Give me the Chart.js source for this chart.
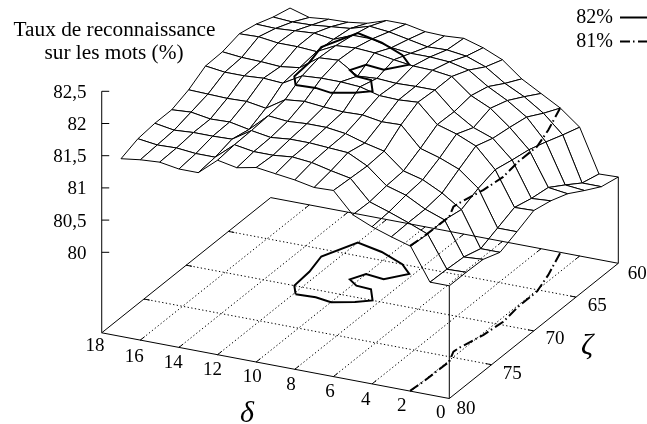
<!DOCTYPE html>
<html lang="fr">
<head>
    <meta charset="UTF-8">
    <title>Taux de reconnaissance sur les mots</title>
    <script src="https://cdn.jsdelivr.net/npm/chart.js"></script>
    <style>
        body { margin: 0; background: #fff; }
        canvas { display: block; }
    </style>
</head>
<body>
    <canvas id="surface" width="647" height="424"></canvas>

    <script>
        // Axes
        const deltaValues = [17, 16, 15, 14, 13, 12, 11, 10, 9, 8, 7, 6, 5, 4, 3, 2, 1, 0];
        const zetaValues = [80, 78, 76, 74, 72, 70, 68, 66, 64, 62, 60];
        const deltaTicks = [18, 16, 14, 12, 10, 8, 6, 4, 2, 0];
        const zetaTicks = [80, 75, 70, 65, 60];
        const rateTicks = [82.5, 82, 81.5, 81, 80.5, 80];
        const rateTickLabels = ['82,5', '82', '81,5', '81', '80,5', '80'];

        // Surface : une liste par valeur de zeta, dans l'ordre de deltaValues
        const rate80 = [81.51, 81.55, 81.57, 81.52, 81.52, 81.77, 81.71, 81.77, 81.73, 81.69, 81.63, 81.64, 81.32, 81.19, 81.09, 81.00, 80.50, 80.50];
        const rate78 = [81.61, 81.57, 81.58, 81.55, 81.55, 81.80, 81.75, 81.75, 81.78, 81.75, 81.68, 81.62, 81.31, 81.21, 81.10, 80.98, 80.49, 80.50];
        const rate76 = [81.64, 81.59, 81.61, 81.61, 81.62, 81.81, 81.76, 81.79, 81.79, 81.77, 81.75, 81.60, 81.35, 81.26, 81.10, 80.99, 80.47, 80.49];
        const rate74 = [81.64, 81.66, 81.61, 81.62, 81.56, 81.83, 81.80, 81.82, 81.82, 81.78, 81.69, 81.62, 81.37, 81.29, 81.14, 80.94, 80.39, 80.39];
        const rate72 = [81.74, 81.73, 81.72, 81.73, 81.68, 81.87, 81.90, 81.87, 81.85, 81.86, 81.81, 81.82, 81.51, 81.42, 81.30, 81.06, 80.50, 80.50];
        const rate70 = [81.90, 81.86, 81.86, 81.88, 81.86, 82.03, 82.05, 82.05, 82.03, 81.95, 81.94, 81.96, 81.67, 81.58, 81.45, 81.14, 80.61, 80.62];
        const rate68 = [81.91, 81.88, 81.87, 81.85, 81.89, 82.10, 82.12, 81.93, 81.95, 81.93, 81.94, 81.94, 81.66, 81.47, 81.36, 81.08, 80.54, 80.56];
        const rate66 = [81.98, 81.99, 81.95, 81.95, 81.93, 82.08, 82.10, 82.08, 82.03, 81.99, 81.98, 81.94, 81.70, 81.56, 81.32, 81.03, 80.50, 80.46];
        const rate64 = [81.92, 81.91, 81.93, 81.95, 81.91, 82.03, 82.03, 81.95, 81.92, 81.92, 81.90, 81.83, 81.63, 81.47, 81.27, 80.94, 80.33, 80.30];
        const rate62 = [81.82, 81.80, 81.81, 81.84, 81.87, 81.96, 81.93, 81.87, 81.81, 81.82, 81.78, 81.67, 81.47, 81.32, 81.12, 80.84, 80.15, 80.15];
        const rate60 = [81.75, 81.66, 81.69, 81.70, 81.74, 81.84, 81.84, 81.78, 81.77, 81.79, 81.70, 81.57, 81.33, 81.16, 80.99, 80.75, 80.08, 80.09];
        const rates = [rate80, rate78, rate76, rate74, rate72, rate70, rate68, rate66, rate64, rate62, rate60];

        // Contours (delta, zeta)
        const contour82Delta = [11.9, 12.4, 12.5, 12.8, 12.0, 10.5, 9.0, 8.2, 9.0, 10.0, 10.4, 9.8, 9.0, 8.35, 9.0, 10.0, 10.9, 11.9];
        const contour82Zeta = [71.0, 70.0, 68.0, 65.9, 63.4, 64.0, 65.0, 66.0, 67.2, 67.0, 68.0, 68.6, 68.7, 70.0, 70.6, 71.15, 70.9, 71.0];
        const contour81Delta = [2.05, 1.97, 1.93, 2.28, 2.25, 1.9, 1.76, 1.92, 1.93, 2.32, 2.97];
        const contour81Zeta = [79.96, 78.6, 75.6, 74.3, 73.8, 71.6, 69.6, 67.45, 65.2, 63.0, 60.1];

        const BASE_LEVEL = 78.75;
        const DASH_DOT = [10, 3, 1.5, 3.5];

        // Vue : projection orthographique de gnuplot (delta, zeta, taux) vers le repere du graphique
        function project(delta, zeta, rate) {
            return {
                x: 449.3 - 19.31 * delta + 8.45 * (80 - zeta),
                y: 398.5 - 3.65 * delta - 6.76 * (80 - zeta) - 64.4 * (rate - BASE_LEVEL)
            };
        }

        function line(points, opts) {
            return Object.assign({
                data: points,
                showLine: true,
                pointRadius: 0,
                borderColor: '#000',
                borderWidth: 1,
                tension: 0,
                fill: false
            }, opts);
        }

        const datasets = [];
        let order = 0;
        function add(points, opts) {
            datasets.push(line(points, Object.assign({ order: order++ }, opts)));
        }

        // Contours (au-dessus de tout)
        const solid = { borderWidth: 2 };
        const dashed = { borderWidth: 2, borderDash: DASH_DOT };
        add(contour82Delta.map((d, i) => project(d, contour82Zeta[i], 82)), solid);
        add(contour82Delta.map((d, i) => project(d, contour82Zeta[i], BASE_LEVEL)), solid);
        add(contour81Delta.map((d, i) => project(d, contour81Zeta[i], 81)), dashed);
        add(contour81Delta.map((d, i) => project(d, contour81Zeta[i], BASE_LEVEL)), dashed);

        // Legende
        add([{ x: 620, y: 17.5 }, { x: 647, y: 17.5 }], solid);
        add([{ x: 620, y: 41.5 }, { x: 647, y: 41.5 }], dashed);

        // Cadre de la base
        add([project(18, 80, BASE_LEVEL), project(0, 80, BASE_LEVEL), project(0, 60, BASE_LEVEL), project(18, 60, BASE_LEVEL), project(18, 80, BASE_LEVEL)]);

        // Axe vertical et graduations
        const axisBottom = project(18, 80, BASE_LEVEL);
        add([axisBottom, project(18, 80, rateTicks[0])]);
        rateTicks.forEach(r => {
            const p = project(18, 80, r);
            add([p, { x: p.x + 7.5, y: p.y }]);
        });

        // Grille pointillee et graduations de la base
        const dotted = { borderDash: [1.3, 2.4] };
        deltaTicks.filter(d => d > 0 && d < 18).forEach(d => {
            add([project(d, 80, BASE_LEVEL), project(d, 60, BASE_LEVEL)], dotted);
            add([project(d, 80, BASE_LEVEL), project(d, 79.5, BASE_LEVEL)]);
            add([project(d, 60, BASE_LEVEL), project(d, 60.5, BASE_LEVEL)]);
        });
        zetaTicks.filter(z => z > 60 && z < 80).forEach(z => {
            add([project(18, z, BASE_LEVEL), project(0, z, BASE_LEVEL)], dotted);
            add([project(18, z, BASE_LEVEL), project(17.7, z, BASE_LEVEL)]);
            add([project(0, z, BASE_LEVEL), project(0.3, z, BASE_LEVEL)]);
        });

        // Surface : facettes blanches, des plus proches aux plus lointaines
        for (let j = 0; j < zetaValues.length - 1; j++) {
            for (let i = deltaValues.length - 2; i >= 0; i--) {
                const quad = [
                    project(deltaValues[i + 1], zetaValues[j], rates[j][i + 1]),
                    project(deltaValues[i], zetaValues[j], rates[j][i]),
                    project(deltaValues[i], zetaValues[j + 1], rates[j + 1][i]),
                    project(deltaValues[i + 1], zetaValues[j + 1], rates[j + 1][i + 1])
                ];
                quad.push(quad[0]);
                add(quad, { fill: 'shape', backgroundColor: '#fff' });
            }
        }

        // Aretes verticales des coins
        add([project(0, 80, BASE_LEVEL), project(0, 80, rate80[17])]);
        add([project(0, 60, BASE_LEVEL), project(0, 60, rate60[17])]);

        // Textes : graduations, titres, legende
        const deltaLabelNudge = [[-6.7, 11.3], [-6, 15], [-5.6, 14.3], [-5, 14.3], [-3.9, 13.7], [-3.8, 14], [-3.4, 14.4], [-6.3, 14.4], [-9, 13.8], [-8.6, 13.2]];
        const zetaLabelNudge = [[16.7, 9.2], [20.7, 8], [21.2, 6.3], [21.3, 7.9], [19, 9.4]];

        const textPlugin = {
            id: 'texts',
            afterDatasetsDraw(chart) {
                const { ctx, scales } = chart;
                const px = p => ({ x: scales.x.getPixelForValue(p.x), y: scales.y.getPixelForValue(p.y) });
                // le milieu des chiffres tombe un peu haut avec textBaseline middle
                const put = (text, x, y, align, font) => {
                    ctx.font = font;
                    ctx.textAlign = align;
                    ctx.textBaseline = 'middle';
                    ctx.fillText(text, x, y + 1.5);
                };
                const tickFont = '19px "Liberation Serif"';
                const titleFont = '21.3px "Liberation Serif"';
                ctx.save();
                ctx.fillStyle = '#000';
                put('Taux de reconnaissance', 114.5, 29, 'center', titleFont);
                put('sur les mots (%)', 114, 52, 'center', titleFont);
                put('82%', 613, 16, 'right', '20px "Liberation Serif"');
                put('81%', 613, 40, 'right', '20px "Liberation Serif"');
                rateTicks.forEach((r, i) => {
                    const p = px(project(18, 80, r));
                    put(rateTickLabels[i], 86.5, p.y, 'right', tickFont);
                });
                deltaTicks.forEach((d, i) => {
                    const p = px(project(d, 80, BASE_LEVEL));
                    put(String(d), p.x + deltaLabelNudge[i][0], p.y + deltaLabelNudge[i][1], 'center', tickFont);
                });
                zetaTicks.forEach((z, i) => {
                    const p = px(project(0, z, BASE_LEVEL));
                    put(String(z), p.x + zetaLabelNudge[i][0], p.y + zetaLabelNudge[i][1], 'center', tickFont);
                });
                put('δ', 247, 412.5, 'center', 'italic 30px "Liberation Serif"');
                put('ζ', 587, 345, 'center', 'italic 30px "Liberation Serif"');
                ctx.restore();
            }
        };

        new Chart(document.getElementById('surface').getContext('2d'), {
            type: 'scatter',
            data: { datasets: datasets },
            options: {
                responsive: false,
                animation: false,
                events: [],
                layout: { padding: 0 },
                scales: {
                    x: { type: 'linear', display: false, min: 0, max: 647 },
                    y: { type: 'linear', display: false, min: 0, max: 424, reverse: true }
                },
                plugins: {
                    legend: { display: false },
                    tooltip: { enabled: false }
                }
            },
            plugins: [textPlugin]
        });
    </script>
</body>
</html>
